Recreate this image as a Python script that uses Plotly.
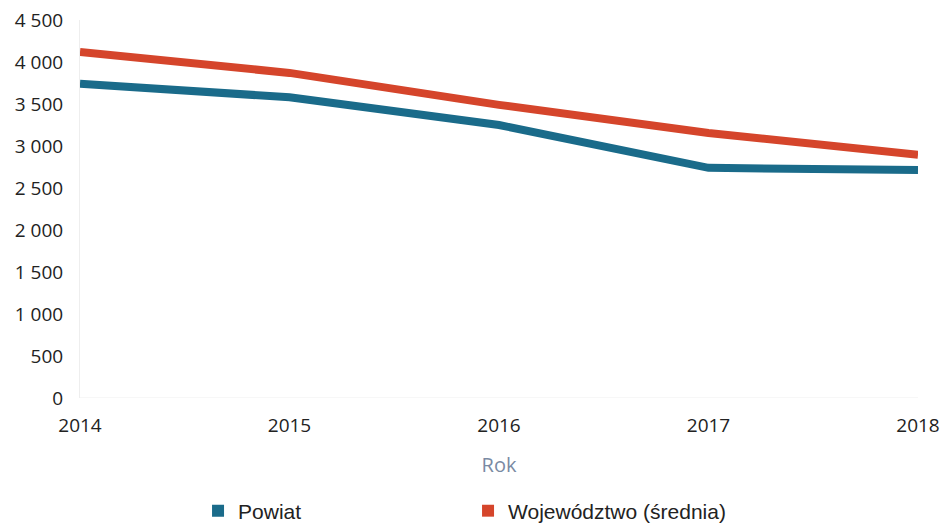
import plotly.graph_objects as go

years = [2014, 2015, 2016, 2017, 2018]
powiat = [3740, 3580, 3250, 2740, 2715]
wojewodztwo = [4120, 3870, 3490, 3155, 2895]
y_ticks = [0, 500, 1000, 1500, 2000, 2500, 3000, 3500, 4000, 4500]

c_pow = "#1a6b8a"
c_woj = "#d5452b"

fig = go.Figure()
fig.add_trace(go.Scatter(x=years, y=powiat, mode="lines", line=dict(color=c_pow, width=8),
                         showlegend=False, name="Powiat", cliponaxis=False))
fig.add_trace(go.Scatter(x=years, y=wojewodztwo, mode="lines", line=dict(color=c_woj, width=8),
                         showlegend=False, name="Województwo (średnia)", cliponaxis=False))
fig.add_trace(go.Scatter(x=[None], y=[None], mode="markers", name="Powiat",
                         marker=dict(symbol="square", color=c_pow, size=11)))
fig.add_trace(go.Scatter(x=[None], y=[None], mode="markers", name="Województwo (średnia)",
                         marker=dict(symbol="square", color=c_woj, size=11)))

fig.update_layout(
    width=948, height=529,
    margin=dict(l=80, r=30, t=20, b=131, autoexpand=False),
    paper_bgcolor="white", plot_bgcolor="white",
    separators=", ",
    font=dict(family="Open Sans", size=19, color="#222222"),
    xaxis=dict(range=[2014, 2018], tickvals=years, ticktext=[str(y) for y in years],
               showgrid=False, zeroline=False, showline=False, automargin=False,
               title=dict(text="Rok", font=dict(color="#7a8aa3", size=20), standoff=20),
               ticks="", ticklabelstandoff=14),
    yaxis=dict(range=[0, 4500], tickvals=y_ticks, tickformat=",d", automargin=False,
               showgrid=False, zeroline=False, showline=True, linecolor="#eeeeee", linewidth=1,
               ticks="", ticklabelstandoff=12),
    legend=dict(orientation="h", xref="container", yref="container",
                x=0.2089, xanchor="left", y=0.034, yanchor="middle",
                entrywidth=225, entrywidthmode="pixels",
                font=dict(family="Liberation Sans", size=21, color="#222222"),
                itemsizing="constant"),
    shapes=[dict(type="line", xref="paper", yref="y", x0=0, x1=1, y0=0, y1=0,
                 line=dict(color="#eeeeee", width=1))],
)

fig.write_html("out.html", config={"displayModeBar": False},
               post_script="document.body.style.margin='0';document.body.style.overflow='hidden';")
